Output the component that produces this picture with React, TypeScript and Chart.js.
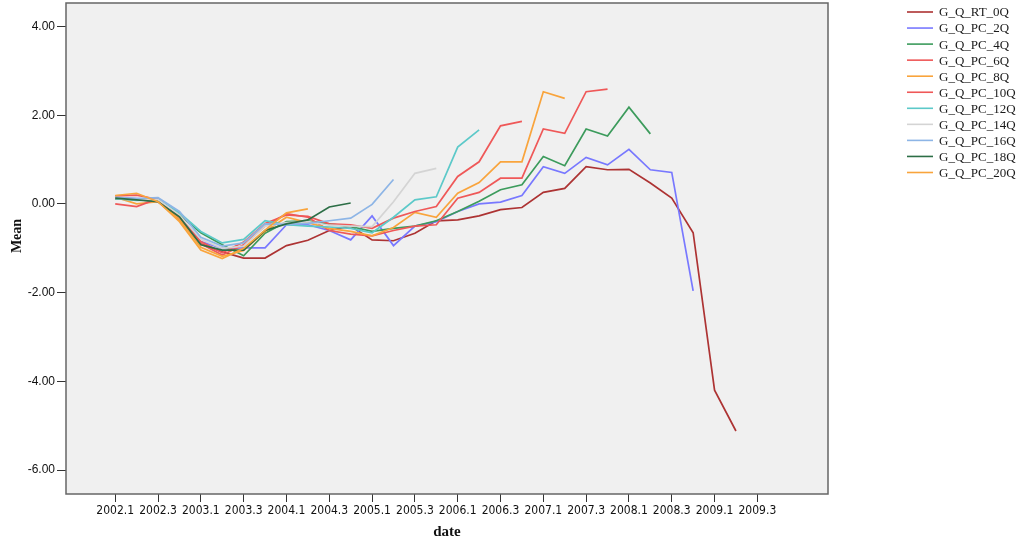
import { useEffect, useRef } from 'react';
import { Chart, registerables } from 'chart.js';

Chart.register(...registerables);

// Quarterly categories on the x axis
const QUARTERS = [
  '2002.1', '2002.2', '2002.3', '2002.4',
  '2003.1', '2003.2', '2003.3', '2003.4',
  '2004.1', '2004.2', '2004.3', '2004.4',
  '2005.1', '2005.2', '2005.3', '2005.4',
  '2006.1', '2006.2', '2006.3', '2006.4',
  '2007.1', '2007.2', '2007.3', '2007.4',
  '2008.1', '2008.2', '2008.3', '2008.4',
  '2009.1', '2009.2', '2009.3', '2009.4',
];

const Y_TICKS = [-6, -4, -2, 0, 2, 4];

const SERIES_NAMES = [
  'G_Q_RT_0Q', 'G_Q_PC_2Q', 'G_Q_PC_4Q', 'G_Q_PC_6Q', 'G_Q_PC_8Q', 'G_Q_PC_10Q',
  'G_Q_PC_12Q', 'G_Q_PC_14Q', 'G_Q_PC_16Q', 'G_Q_PC_18Q', 'G_Q_PC_20Q',
];

const SERIES_COLORS = [
  '#ad3333', '#7878ff', '#3c9b5c', '#ef5858', '#f9a43c', '#ef5858',
  '#5cc9c9', '#d4d4d4', '#8db5e6', '#2c6e46', '#f9a43c',
];

// Mean values per quarter, starting at 2002.1
const RT_0Q = [0.12, 0.10, 0.05, -0.35, -0.90, -1.08, -1.22, -1.22, -0.94, -0.82, -0.60, -0.50, -0.81, -0.83, -0.66, -0.38, -0.36, -0.27, -0.13, -0.08, 0.26, 0.35, 0.84, 0.77, 0.78, 0.47, 0.13, -0.65, -4.20, -5.12];
const PC_2Q = [0.14, 0.12, 0.10, -0.30, -0.85, -1.00, -0.99, -0.99, -0.47, -0.47, -0.60, -0.81, -0.27, -0.94, -0.50, -0.40, -0.17, 0.00, 0.04, 0.19, 0.84, 0.69, 1.05, 0.88, 1.23, 0.77, 0.71, -1.96];
const PC_4Q = [0.12, 0.10, 0.08, -0.25, -0.65, -0.92, -1.17, -0.66, -0.40, -0.38, -0.45, -0.51, -0.62, -0.55, -0.50, -0.38, -0.17, 0.06, 0.32, 0.43, 1.07, 0.86, 1.69, 1.53, 2.18, 1.58];
const PC_6Q = [0.18, 0.20, 0.10, -0.30, -0.90, -1.15, -0.92, -0.50, -0.22, -0.30, -0.60, -0.68, -0.72, -0.60, -0.50, -0.47, 0.13, 0.26, 0.58, 0.58, 1.69, 1.59, 2.53, 2.59];
const PC_8Q = [0.15, 0.00, 0.05, -0.35, -0.98, -1.18, -1.05, -0.62, -0.30, -0.42, -0.55, -0.62, -0.72, -0.53, -0.19, -0.30, 0.24, 0.48, 0.95, 0.95, 2.53, 2.38];
const PC_10Q = [0.00, -0.06, 0.12, -0.28, -0.85, -1.10, -0.86, -0.44, -0.25, -0.28, -0.45, -0.47, -0.55, -0.32, -0.17, -0.06, 0.62, 0.95, 1.76, 1.86];
const PC_12Q = [0.12, 0.08, 0.10, -0.20, -0.62, -0.88, -0.80, -0.38, -0.47, -0.50, -0.52, -0.55, -0.65, -0.30, 0.09, 0.16, 1.28, 1.67];
const PC_14Q = [0.13, 0.10, 0.10, -0.25, -0.80, -1.00, -0.95, -0.50, -0.42, -0.40, -0.48, -0.50, -0.51, 0.05, 0.69, 0.80];
const PC_16Q = [0.15, 0.12, 0.14, -0.17, -0.75, -0.95, -0.88, -0.45, -0.46, -0.44, -0.38, -0.32, -0.01, 0.55];
const PC_18Q = [0.13, 0.09, 0.05, -0.29, -0.92, -1.04, -1.04, -0.60, -0.45, -0.36, -0.07, 0.02];
const PC_20Q = [0.19, 0.24, 0.05, -0.40, -1.04, -1.23, -1.00, -0.59, -0.20, -0.11];

const SERIES_VALUES = [RT_0Q, PC_2Q, PC_4Q, PC_6Q, PC_8Q, PC_10Q, PC_12Q, PC_14Q, PC_16Q, PC_18Q, PC_20Q];

// Gray plot panel with a thin frame
const plotFrame = {
  id: 'plotFrame',
  beforeDraw(chart: any) {
    const { ctx, width, height, chartArea } = chart;
    const { left, top, right, bottom } = chartArea;
    ctx.save();
    ctx.fillStyle = '#ffffff';
    ctx.fillRect(0, 0, width, height);
    ctx.fillStyle = '#f0f0f0';
    ctx.fillRect(left, top, right - left, bottom - top);
    ctx.restore();
  },
  afterDatasetsDraw(chart: any) {
    const { ctx, chartArea } = chart;
    const { left, top, right, bottom } = chartArea;
    ctx.save();
    ctx.strokeStyle = '#666666';
    ctx.lineWidth = 1.5;
    ctx.strokeRect(left, top, right - left, bottom - top);
    ctx.restore();
  },
};

// Vertical "Mean" axis title, placed a little above the axis centre
const meanTitle = {
  id: 'meanTitle',
  afterDraw(chart: any) {
    const { ctx } = chart;
    ctx.save();
    ctx.translate(17, 236);
    ctx.rotate(-Math.PI / 2);
    ctx.font = 'bold 14px "Liberation Serif", "DejaVu Serif", serif';
    ctx.fillStyle = '#111111';
    ctx.textAlign = 'center';
    ctx.textBaseline = 'middle';
    ctx.fillText('Mean', 0, 0);
    ctx.restore();
  },
};

// Legend column at the right edge
const sideLegend = {
  id: 'sideLegend',
  afterDraw(chart: any) {
    const { ctx } = chart;
    ctx.save();
    ctx.font = '13px "Liberation Serif", "DejaVu Serif", serif';
    ctx.textBaseline = 'middle';
    ctx.textAlign = 'left';
    SERIES_NAMES.forEach((name, k) => {
      const y = 12 + k * 16.05;
      ctx.strokeStyle = SERIES_COLORS[k];
      ctx.lineWidth = 1.6;
      ctx.beginPath();
      ctx.moveTo(907, y);
      ctx.lineTo(933, y);
      ctx.stroke();
      ctx.fillStyle = '#1a1a1a';
      ctx.fillText(name, 939, y + 1);
    });
    ctx.restore();
  },
};

export default function App() {
  const canvasRef = useRef<HTMLCanvasElement | null>(null);

  useEffect(() => {
    const canvas = canvasRef.current;
    if (!canvas) return;

    const datasets = SERIES_VALUES.map((vals, k) => ({
      label: SERIES_NAMES[k],
      data: vals.map((y, i) => ({ x: i, y })),
      borderColor: SERIES_COLORS[k],
      backgroundColor: SERIES_COLORS[k],
      borderWidth: 1.7,
      pointRadius: 0,
      pointHoverRadius: 0,
      fill: false,
      tension: 0,
      order: SERIES_VALUES.length - k,
    }));

    const chart = new Chart(canvas, {
      type: 'line',
      data: { datasets },
      options: {
        responsive: false,
        animation: false,
        devicePixelRatio: 1,
        layout: { padding: { left: 0, right: 188, top: 3, bottom: 0 } },
        plugins: {
          legend: { display: false },
          tooltip: { enabled: false },
        },
        scales: {
          x: {
            type: 'linear',
            min: -2.3,
            max: 33.3,
            afterBuildTicks: (scale: any) => {
              scale.ticks = QUARTERS.map((_, i) => i)
                .filter((i) => i % 2 === 0)
                .map((v) => ({ value: v }));
            },
            afterFit: (scale: any) => {
              scale.height = 48;
              scale.paddingLeft = 0;
              scale.paddingRight = 0;
            },
            ticks: {
              autoSkip: false,
              maxRotation: 0,
              padding: 2,
              color: '#111111',
              font: { family: '"Liberation Sans Narrow", "DejaVu Sans Condensed", "Arial Narrow", sans-serif', size: 12 },
              callback: (v: any) => QUARTERS[Number(v)] ?? '',
            },
            grid: { drawOnChartArea: false, drawTicks: true, tickLength: 8, color: '#333333' },
            border: { display: false },
            title: {
              display: true,
              text: 'date',
              color: '#111111',
              font: { family: '"Liberation Serif", serif', size: 15, weight: 'bold' },
              padding: { top: 0, bottom: 1 },
            },
          },
          y: {
            type: 'linear',
            min: -6.54,
            max: 4.53,
            afterBuildTicks: (scale: any) => {
              scale.ticks = Y_TICKS.map((v) => ({ value: v }));
            },
            afterFit: (scale: any) => {
              scale.width = 66;
              scale.paddingTop = 0;
              scale.paddingBottom = 0;
            },
            ticks: {
              padding: 2,
              color: '#111111',
              font: { family: '"Liberation Sans", Arial, sans-serif', size: 12 },
              callback: (v: any) => Number(v).toFixed(2),
            },
            grid: { drawOnChartArea: false, drawTicks: true, tickLength: 9, color: '#333333' },
            border: { display: false },
            title: { display: false },
          },
        },
      },
      plugins: [plotFrame, meanTitle, sideLegend],
    } as any);

    return () => chart.destroy();
  }, []);

  return (
    <div style={{ position: 'fixed', left: 0, top: 0, width: 1016, height: 542, background: '#ffffff' }}>
      <canvas ref={canvasRef} width={1016} height={542} style={{ width: 1016, height: 542, display: 'block' }} />
    </div>
  );
}
